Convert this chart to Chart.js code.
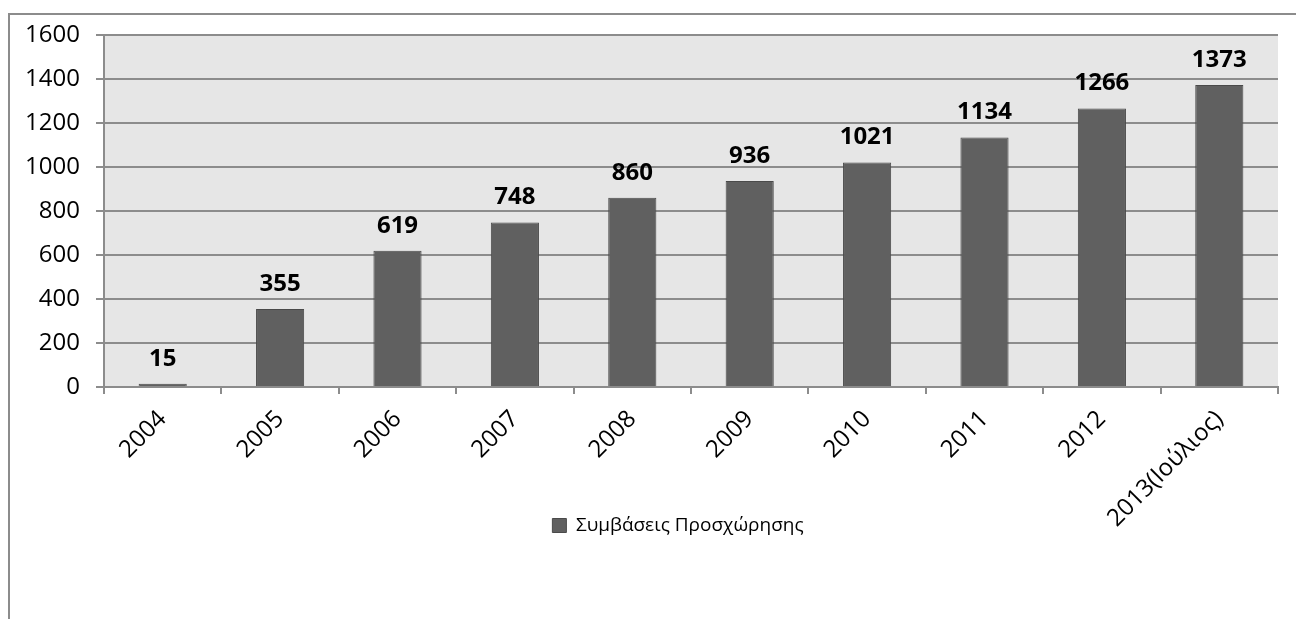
<!DOCTYPE html>
<html lang="el">
<head>
  <meta charset="UTF-8" />
  <title>Συμβάσεις Προσχώρησης</title>
  <style>
    body { margin: 0; background: #fff; overflow: hidden; }
    .frame {
      position: absolute;
      left: 8px; top: 13px;
      width: 1300px; height: 620px;
      border: 2px solid #8c8c8c;
    }
    #wrap { position: absolute; left: 0; top: 0; width: 1296px; height: 619px; }
  </style>
  <script src="https://cdn.jsdelivr.net/npm/chart.js"></script>
</head>
<body>
  <div class="frame"></div>
  <div id="wrap"><canvas id="chart" width="1296" height="619"></canvas></div>

  <script>
    const years = ["2004", "2005", "2006", "2007", "2008", "2009", "2010", "2011", "2012", "2013(Ιούλιος)"];
    const contracts = [15, 355, 619, 748, 860, 936, 1021, 1134, 1266, 1373];
    const seriesName = "Συμβάσεις Προσχώρησης";
    const yTicks = [0, 200, 400, 600, 800, 1000, 1200, 1400, 1600];

    const fontFamily = "'Open Sans', sans-serif";

    // grey plot area behind the bars
    const plotBg = {
      id: 'plotBg',
      beforeDraw(chart) {
        const a = chart.chartArea;
        const ctx = chart.ctx;
        ctx.save();
        ctx.fillStyle = '#e6e6e6';
        ctx.fillRect(a.left, a.top, a.right - a.left, a.bottom - a.top);
        ctx.restore();
      }
    };

    // value labels above each bar
    const valueLabels = {
      id: 'valueLabels',
      afterDatasetsDraw(chart) {
        const ctx = chart.ctx;
        const meta = chart.getDatasetMeta(0);
        ctx.save();
        ctx.font = "bold 24px " + fontFamily;
        ctx.fillStyle = '#000';
        ctx.textAlign = 'center';
        ctx.textBaseline = 'bottom';
        meta.data.forEach((bar, i) => {
          ctx.fillText(String(chart.data.datasets[0].data[i]), bar.x, bar.y - 13);
        });
        ctx.restore();
      }
    };

    // the legend sits next to the long rotated label, not under it
    const legendShift = {
      id: 'legendShift',
      afterLayout(chart) {
        const l = chart.legend;
        l.top -= 24; l.bottom -= 24;
        l.left += 39; l.right += 39;
      }
    };

    new Chart(document.getElementById('chart'), {
      type: 'bar',
      data: {
        labels: years,
        datasets: [{
          label: seriesName,
          data: contracts,
          backgroundColor: '#606060',
          borderColor: '#4a4a4a',
          borderWidth: 1,
          barPercentage: 0.41,
          categoryPercentage: 1.0
        }]
      },
      options: {
        responsive: false,
        animation: false,
        layout: { padding: { left: 0, top: 35, right: 18, bottom: 50 } },
        plugins: {
          legend: {
            position: 'bottom',
            labels: {
              font: { family: fontFamily, size: 19 },
              color: '#000',
              boxWidth: 14,
              boxHeight: 14,
              padding: 8
            }
          },
          tooltip: { enabled: false }
        },
        scales: {
          x: {
            offset: true,
            grid: {
              offset: true,
              drawOnChartArea: false,
              drawTicks: true,
              tickLength: 7,
              color: '#8c8c8c',
              lineWidth: 2
            },
            border: { display: true, color: '#8c8c8c', width: 2 },
            ticks: {
              font: { family: fontFamily, size: 24 },
              color: '#000',
              minRotation: 45,
              maxRotation: 45,
              autoSkip: false,
              padding: 11
            },
            afterFit(scale) { scale.height = 145; }
          },
          y: {
            min: 0,
            max: 1600,
            afterBuildTicks(scale) { scale.ticks = yTicks.map(v => ({ value: v })); },
            grid: {
              color: '#8c8c8c',
              lineWidth: 2,
              drawTicks: true,
              tickLength: 8
            },
            border: { display: true, color: '#8c8c8c', width: 2 },
            ticks: {
              font: { family: fontFamily, size: 24 },
              color: '#000',
              padding: 16,
              callback: v => String(v)
            },
            afterFit(scale) { scale.width = 104; }
          }
        }
      },
      plugins: [plotBg, valueLabels, legendShift]
    });
  </script>
</body>
</html>
